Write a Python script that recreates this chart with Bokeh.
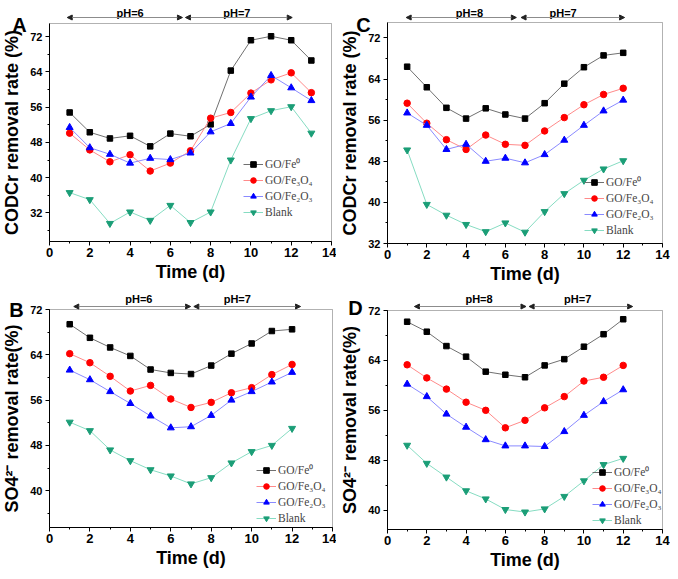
from bokeh.plotting import figure
from bokeh.models import (Range1d, SingleIntervalTicker, Legend, LegendItem,
                          Arrow, NormalHead, Label, BoxAnnotation)
from bokeh.layouts import row, column
from bokeh.embed import file_html
from bokeh.resources import INLINE

# ---------------- data ----------------
days_a = [1, 2, 3, 4, 5, 6, 7, 8, 9, 10, 11, 12, 13]
days_bcd = [1, 2, 3, 4, 5, 6, 7, 8, 9, 10, 11, 12]

# Panel A: CODCr removal rate (%), pH=6 then pH=7
a_fe0 = [54.8, 50.3, 48.9, 49.5, 47.1, 50.0, 49.4, 52.1, 64.3, 71.2, 72.1, 71.2, 66.6]
a_fe3o4 = [50.1, 46.3, 43.6, 45.2, 41.5, 43.3, 46.1, 53.5, 54.8, 59.2, 62.2, 63.8, 59.3]
a_fe2o3 = [51.4, 46.8, 45.3, 43.3, 44.4, 44.1, 45.6, 50.4, 52.3, 58.3, 63.2, 60.4, 57.5]
a_blank = [36.6, 35.0, 29.6, 32.2, 30.3, 33.7, 29.8, 32.2, 44.0, 53.4, 55.2, 56.1, 50.1]

# Panel C: CODCr removal rate (%), pH=8 then pH=7
c_fe0 = [66.4, 62.4, 58.4, 56.3, 58.3, 57.1, 56.3, 59.3, 63.1, 66.3, 68.6, 69.1]
c_fe3o4 = [59.3, 55.4, 52.2, 50.3, 53.1, 51.3, 51.1, 53.9, 56.5, 59.0, 61.0, 62.2]
c_fe2o3 = [57.4, 55.0, 50.3, 51.3, 48.0, 48.6, 47.7, 49.3, 52.1, 55.0, 57.8, 59.9]
c_blank = [50.2, 39.6, 37.5, 35.7, 34.3, 36.0, 34.2, 38.2, 41.7, 44.3, 46.5, 48.1]

# Panel B: SO4 2- removal rate (%), pH=6 then pH=7
b_fe0 = [69.4, 67.0, 65.3, 63.8, 61.4, 60.8, 60.6, 62.1, 64.2, 66.0, 68.2, 68.5]
b_fe3o4 = [64.2, 62.6, 60.2, 57.6, 58.6, 56.2, 54.7, 55.6, 57.3, 58.2, 60.5, 62.3]
b_fe2o3 = [61.3, 59.6, 57.5, 55.4, 53.2, 51.1, 51.3, 53.3, 56.0, 57.5, 59.2, 60.9]
b_blank = [52.1, 50.6, 47.2, 45.3, 43.7, 42.6, 41.2, 42.3, 44.9, 46.9, 48.0, 51.0]

# Panel D: SO4 2- removal rate (%), pH=8 then pH=7
d_fe0 = [70.2, 68.6, 66.3, 64.6, 62.2, 61.7, 61.3, 63.2, 64.2, 66.2, 68.2, 70.6]
d_fe3o4 = [63.3, 61.2, 59.4, 57.3, 56.0, 53.2, 54.4, 56.4, 58.2, 60.7, 61.3, 63.2]
d_fe2o3 = [60.2, 58.2, 55.4, 53.3, 51.3, 50.3, 50.3, 50.2, 52.6, 55.2, 57.4, 59.3]
d_blank = [50.4, 47.5, 45.3, 43.1, 41.8, 40.1, 39.7, 40.2, 42.2, 44.7, 47.3, 48.3]

series_labels = ["GO/Fe\u2070", "GO/Fe\u2083O\u2084", "GO/Fe\u2082O\u2083", "Blank"]
cod_label = "CODCr removal rate (%)"
so4_label = "SO4\u00b2\u207b removal rate(%)"
x_label = "Time (d)"

# ---------------- styles ----------------
STYLES = [
    dict(marker="square", color="#000000", line="#707070", size=5.5),
    dict(marker="circle", color="#ff0000", line="#ff8a8a", size=6.5),
    dict(marker="triangle", color="#0000ff", line="#8a8aff", size=7),
    dict(marker="inverted_triangle", color="#1b9e77", line="#86dcc2", size=7),
]

FONT = "Liberation Sans"
X_EXTENT = (0, 14)

# canvas geometry (pixels inside each figure): plot box L, R, T, B
PANELS = [
    dict(key="A", x=days_a, ys=[a_fe0, a_fe3o4, a_fe2o3, a_blank], ylabel=cod_label,
         W=336, H=285, L=49, R=331, T=23, B=241, yext=(25.5, 75.0),
         ph=["pH=6", "pH=7"], phx=[4.0, 9.3], arrows=[(0.88, 6.6), (6.75, 12.05)],
         arrow_py=17, text_py=12, letter=(19, 24), leg=(241, 64)),
    dict(key="C", x=days_bcd, ys=[c_fe0, c_fe3o4, c_fe2o3, c_blank], ylabel=cod_label,
         W=334, H=285, L=51, R=326, T=22, B=243, yext=(32.0, 75.0),
         ph=["pH=8", "pH=7"], phx=[4.17, 8.94], arrows=[(0.95, 6.56), (6.8, 12.07)],
         arrow_py=17, text_py=12, letter=(27, 24), leg=(246, 46)),
    dict(key="B", x=days_bcd, ys=[b_fe0, b_fe3o4, b_fe2o3, b_blank], ylabel=so4_label,
         W=336, H=286, L=49, R=332, T=24, B=242, yext=(33.5, 72.0),
         ph=["pH=6", "pH=7"], phx=[4.42, 9.29], arrows=[(1.2, 6.98), (7.14, 12.42)],
         arrow_py=21, text_py=13, letter=(16, 24), leg=(254, 44)),
    dict(key="D", x=days_bcd, ys=[d_fe0, d_fe3o4, d_fe2o3, d_blank], ylabel=so4_label,
         W=334, H=286, L=51, R=326, T=25, B=244, yext=(36.9, 72.0),
         ph=["pH=8", "pH=7"], phx=[4.66, 9.68], arrows=[(1.37, 7.05), (7.21, 12.48)],
         arrow_py=21, text_py=13, letter=(19, 22), leg=(254, 42)),
]


def make_panel(cfg):
    W, H, L, R, T, B = cfg["W"], cfg["H"], cfg["L"], cfg["R"], cfg["T"], cfg["B"]
    x0, x1 = X_EXTENT
    y0, y1 = cfg["yext"]
    xpp = (x1 - x0) / (R - L)          # data units per pixel
    ypp = (y1 - y0) / (B - T)
    xr = Range1d(x0 - L * xpp, x1 + (W - R) * xpp)
    yr = Range1d(y0 - (H - B) * ypp, y1 + T * ypp)

    def dx(px):
        return xr.start + px * xpp

    def dy(py):
        return yr.end - py * ypp

    p = figure(width=W, height=H, output_backend="svg", toolbar_location=None,
               x_range=xr, y_range=yr, title=None,
               min_border_left=0, min_border_right=0, min_border_top=0, min_border_bottom=0)
    p.grid.visible = False
    p.outline_line_color = None
    p.background_fill_color = "white"
    p.border_fill_color = "white"

    # axes drawn at the plot box edges
    p.xaxis.fixed_location = y0
    p.yaxis.fixed_location = x0
    p.xaxis.bounds = (x0, x1)
    p.yaxis.bounds = (y0, y1)
    p.xaxis.ticker = SingleIntervalTicker(interval=2, num_minor_ticks=2)
    p.yaxis.ticker = SingleIntervalTicker(interval=8, num_minor_ticks=2)
    for ax in (p.xaxis, p.yaxis):
        ax.axis_line_color = "black"
        ax.major_tick_line_color = "black"
        ax.minor_tick_line_color = "black"
        ax.major_tick_in = 0
        ax.major_tick_out = 4
        ax.minor_tick_in = 0
        ax.minor_tick_out = 2
        ax.major_label_text_font = FONT
        ax.major_label_text_font_style = "bold"
        ax.major_label_text_color = "black"
        ax.axis_label_text_font = FONT
        ax.axis_label_text_font_style = "bold"
        ax.axis_label_text_color = "black"
    p.xaxis.major_label_text_font_size = "13px"
    p.yaxis.major_label_text_font_size = "11px"
    p.xaxis.axis_label = x_label
    p.xaxis.axis_label_text_font_size = "18px"
    p.xaxis.major_label_standoff = 2
    p.xaxis.axis_label_standoff = 2
    p.yaxis.axis_label = cfg["ylabel"]
    p.yaxis.axis_label_text_font_size = "18px"
    p.yaxis.major_label_standoff = 3
    p.yaxis.axis_label_standoff = 5

    # plot box (top and right edges; axes draw left/bottom too)
    p.add_layout(BoxAnnotation(left=x0, right=x1, bottom=y0, top=y1,
                               fill_alpha=0, line_color="black", line_width=1))

    items = []
    for label, ys, st in zip(series_labels, cfg["ys"], STYLES):
        lr = p.line(cfg["x"], ys, line_color=st["line"], line_width=1)
        sr = p.scatter(cfg["x"], ys, marker=st["marker"], size=st["size"],
                       fill_color=st["color"], line_color=st["color"])
        items.append(LegendItem(label=label, renderers=[lr, sr]))
    leg = Legend(items=items, location=cfg["leg"], border_line_alpha=0,
                 background_fill_alpha=0, label_text_font="Liberation Serif",
                 label_text_font_size="11.5px", glyph_width=20, glyph_height=14,
                 label_height=14, label_standoff=2, spacing=2, padding=2, margin=0)
    p.add_layout(leg)

    # pH annotations above the box
    for txt, tx in zip(cfg["ph"], cfg["phx"]):
        p.add_layout(Label(x=tx, y=dy(cfg["text_py"]), text=txt, text_align="center",
                           text_baseline="alphabetic", text_font=FONT,
                           text_font_style="bold", text_font_size="11px", text_color="black"))
    ay = dy(cfg["arrow_py"])
    for xs, xe in cfg["arrows"]:
        p.add_layout(Arrow(x_start=xs, y_start=ay, x_end=xe, y_end=ay,
                           line_color="#8c8c8c", line_width=1,
                           start=NormalHead(size=5, fill_color="#222222", line_color="#222222"),
                           end=NormalHead(size=5, fill_color="#222222", line_color="#222222")))
    lx, ly = cfg["letter"]
    p.add_layout(Label(x=dx(lx), y=dy(ly), text=cfg["key"], text_align="center",
                       text_baseline="middle", text_font=FONT, text_font_style="bold",
                       text_font_size="20px", text_color="black"))
    return p


figs = {cfg["key"]: make_panel(cfg) for cfg in PANELS}
layout = column(row(figs["A"], figs["C"]), row(figs["B"], figs["D"]))

open("out.html", "w").write(file_html(layout, INLINE))
